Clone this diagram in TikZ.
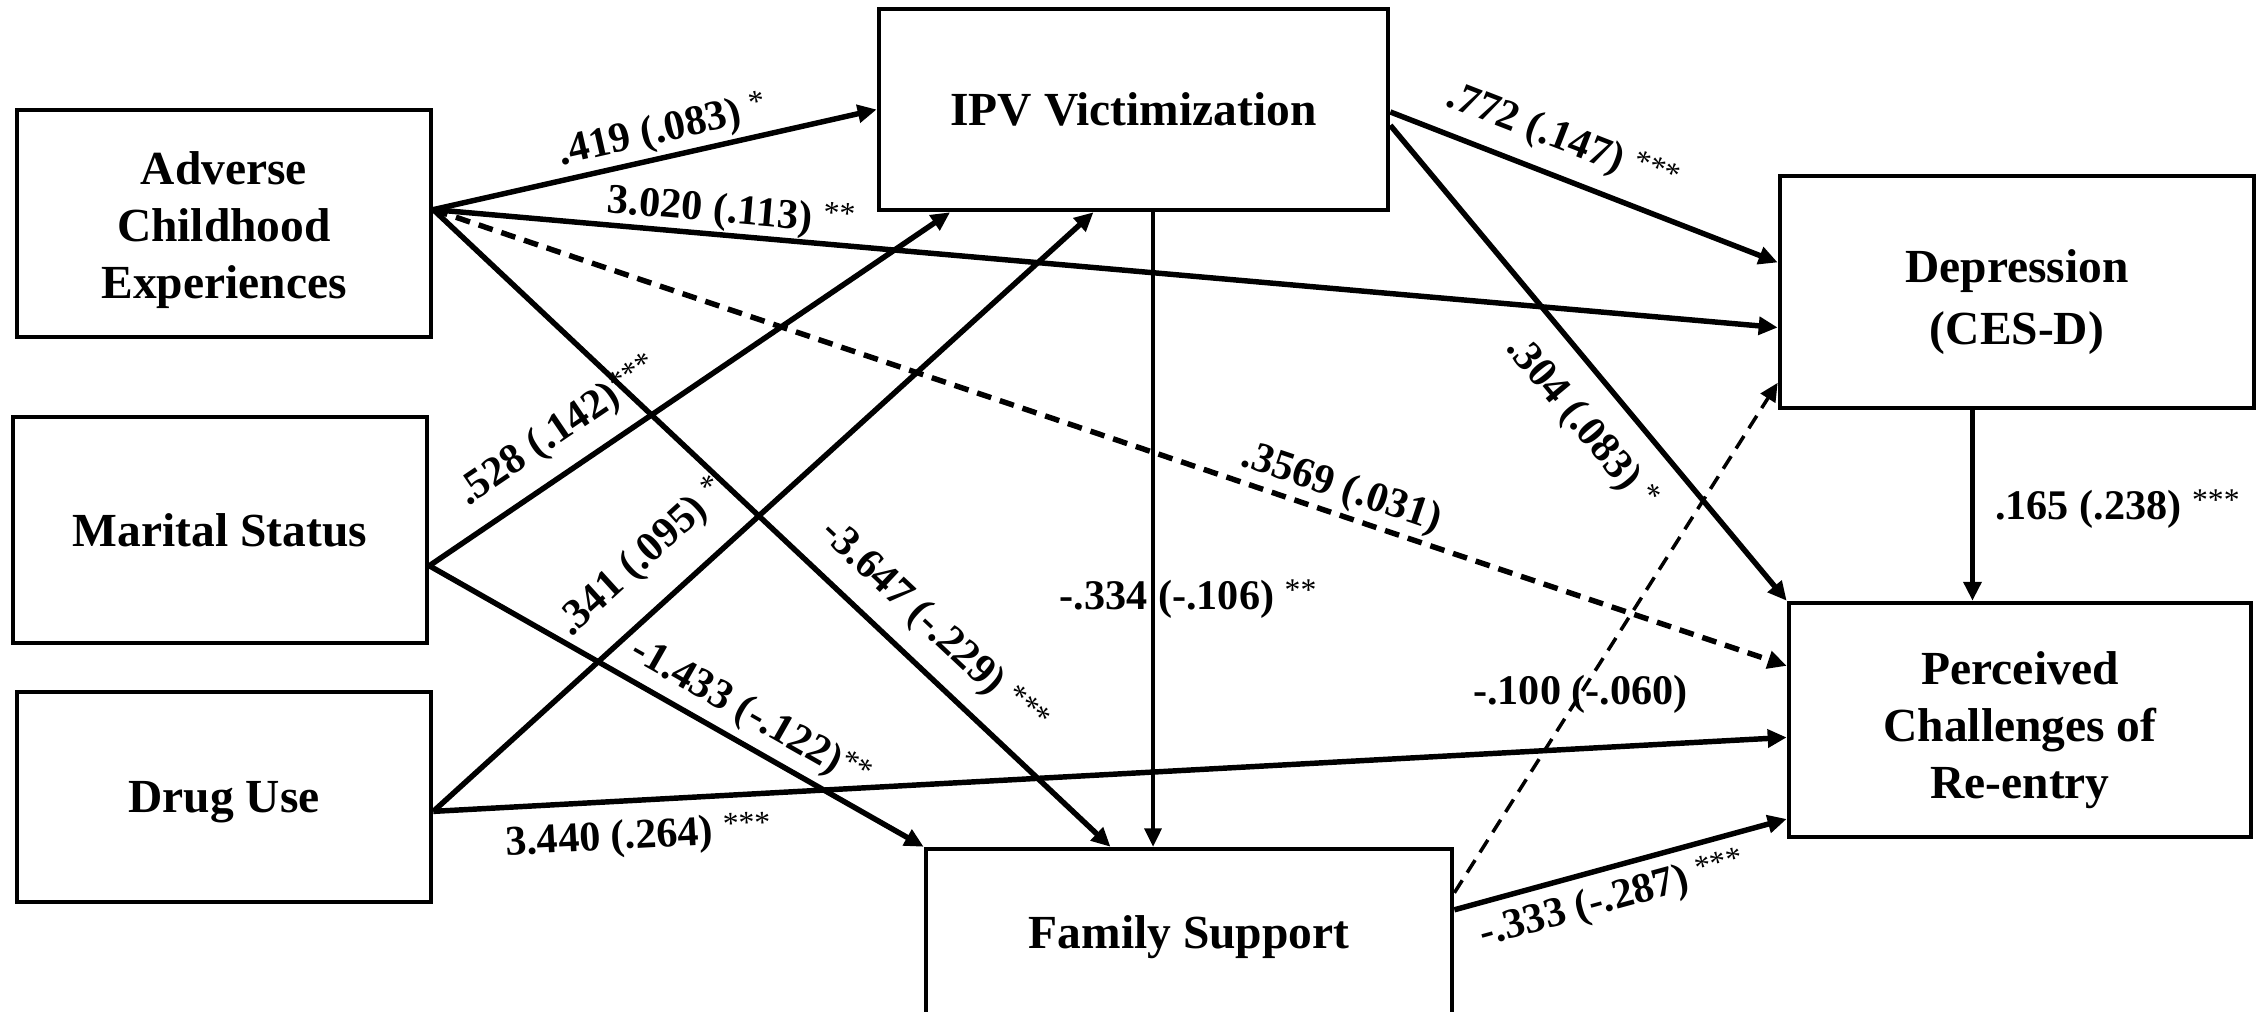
\documentclass[tikz,border=0pt]{standalone}
\usepackage{fontspec}
\setmainfont{Liberation Serif}
\usetikzlibrary{arrows.meta,calc}
\newcommand\starmark[1]{{\mdseries\fontsize{9}{9}\selectfont\raisebox{0.6ex}{#1}}}
\newcommand\toppad[1]{\rule{0pt}{#1}}
\begin{document}
\begin{tikzpicture}[x=0.01cm,y=-0.01cm,
  box/.style={draw,line width=1.25pt,inner sep=0pt,align=center,
    font=\fontsize{13.5}{16.2}\selectfont\bfseries},
  conn/.style={line width=1.55pt,-{Triangle[length=5.4pt,width=5pt]}},
  thinconn/.style={line width=1pt,-{Triangle[length=5.2pt,width=4.8pt]}},
  dashline/.style={dash pattern=on 4.2pt off 2.6pt},
  lab/.style={font=\fontsize{12}{14}\selectfont\bfseries,inner sep=1pt},
]
\clip (0,0) rectangle (2260,1011);
\fill[white] (0,0) rectangle (2260,1011);

\node[box,minimum width=4.14cm,minimum height=2.27cm] (ace) at (224,223.5) {\toppad{13.2pt}Adverse\\Childhood\\Experiences};
\node[box,minimum width=4.14cm,minimum height=2.26cm] (mar) at (220,530) {Marital Status};
\node[box,minimum width=4.14cm,minimum height=2.10cm] (drug) at (224,797) {\toppad{12pt}Drug Use};
\node[box,minimum width=5.09cm,minimum height=2.01cm] (ipv) at (1133.5,109.5) {IPV Victimization};
\node[box,minimum width=4.74cm,minimum height=2.32cm,font=\fontsize{13.5}{17.5}\selectfont\bfseries] (dep) at (2017,292) {\toppad{15pt}Depression\\(CES-D)};
\node[box,minimum width=4.62cm,minimum height=2.34cm] (perc) at (2020,720) {\toppad{15pt}Perceived\\Challenges of\\Re-entry};
\node[box,minimum width=5.26cm,minimum height=1.70cm] (fs) at (1189,934) {\toppad{11pt}Family Support};

\coordinate (aceS) at ($(ace.north east)!0.44!(ace.south east)$);
\coordinate (marS) at ($(mar.north east)!0.655!(mar.south east)$);
\coordinate (drugS) at ($(drug.north east)!0.567!(drug.south east)$);
\coordinate (ipvE1) at ($(ipv.north east)!0.512!(ipv.south east)$);
\coordinate (ipvE2) at ($(ipv.north east)!0.577!(ipv.south east)$);
\coordinate (ipvB1) at ($(ipv.south west)!0.143!(ipv.south east)$);
\coordinate (ipvB2) at ($(ipv.south west)!0.422!(ipv.south east)$);
\coordinate (ipvB3) at ($(ipv.south west)!0.538!(ipv.south east)$);
\coordinate (depW1) at ($(dep.north west)!0.375!(dep.south west)$);
\coordinate (depW2) at ($(dep.north west)!0.65!(dep.south west)$);
\coordinate (depW3) at ($(dep.north west)!0.884!(dep.south west)$);
\coordinate (depB) at ($(dep.south west)!0.407!(dep.south east)$);
\coordinate (percW1) at ($(perc.north west)!0.273!(perc.south west)$);
\coordinate (percW2) at ($(perc.north west)!0.573!(perc.south west)$);
\coordinate (percW3) at ($(perc.north west)!0.915!(perc.south west)$);
\coordinate (fsT2) at ($(fs.north west)!0.352!(fs.north east)$);
\coordinate (fsE1) at ([yshift=-0.46cm]fs.north east);
\coordinate (fsE2) at ([yshift=-0.63cm]fs.north east);

\draw[conn] (aceS) -- node[lab,sloped,above,pos=0.53] {.419 (.083) \starmark{*}} (ipv.west);
\draw[conn] (aceS) -- node[lab,sloped,above,pos=0.22,inner sep=0.2pt] {3.020 (.113) \starmark{**}} (depW2);
\draw[conn,dashline] (aceS) -- node[lab,sloped,above,pos=0.665] {.3569 (.031)} (percW1);
\draw[conn] (aceS) -- node[lab,sloped,above,pos=0.70,inner sep=4.5pt] {-3.647 (-.229) \starmark{***}} (fsT2);
\draw[conn] (marS) -- node[lab,sloped,above,pos=0.29,inner sep=4.5pt] {.528 (.142)\starmark{***}} (ipvB1);
\draw[conn] (marS) -- node[lab,sloped,above,pos=0.62,inner sep=2pt] {-1.433 (-.122)\starmark{**}} (fs.north west);
\draw[conn] (drugS) -- node[lab,sloped,above,pos=0.365,inner sep=7pt] {.341 (.095) \starmark{*}} (ipvB2);
\draw[conn] (drugS) -- node[lab,sloped,below,pos=0.15,inner sep=4.5pt] {3.440 (.264) \starmark{***}} (percW2);
\draw[thinconn] (ipvB3) -- node[lab,pos=0.61,xshift=0.35cm] {-.334 (-.106) \starmark{**}} (ipvB3 |- fs.north);
\draw[conn] (ipvE1) -- node[lab,sloped,above,pos=0.41,inner sep=4pt] {.772 (.147) \starmark{***}} (depW1);
\draw[conn] (ipvE2) -- node[lab,sloped,below,pos=0.568,inner sep=6.5pt] {.304 (.083) \starmark{*}} (perc.north west);
\draw[conn] (depB) -- node[lab,pos=0.52,anchor=west,xshift=0.2cm,inner sep=0pt] {.165 (.238) \starmark{***}} (depB |- perc.north);
\draw[thinconn,dashline] (fsE1) -- node[lab,pos=0.39] {-.100 (-.060)} (depW3);
\draw[conn] (fsE2) -- node[lab,sloped,below,pos=0.45,inner sep=3pt] {-.333 (-.287) \starmark{***}} (percW3);
\end{tikzpicture}
\end{document}
